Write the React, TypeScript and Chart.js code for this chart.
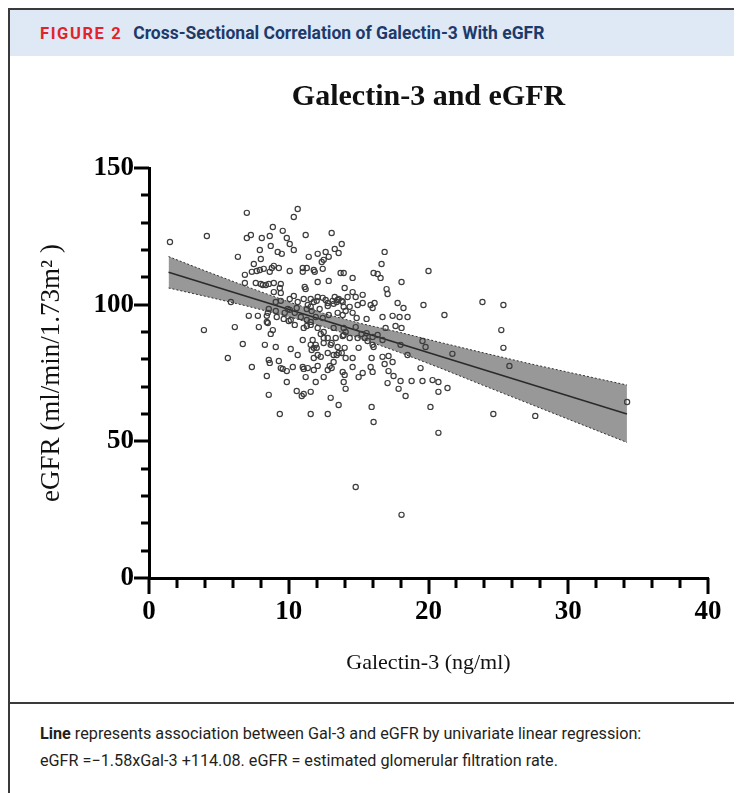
import React, { useEffect, useRef } from "react";
import { Chart, registerables } from "chart.js";

Chart.register(...registerables);

// Galectin-3 (ng/ml) and eGFR (ml/min/1.73m²) for each patient
const galectin = [
  1.5, 4.14, 3.93, 5.64, 6.14, 5.86, 6.36, 6.71, 6.86, 6.86, 7.0, 7.0, 7.29, 7.14, 7.36, 7.36, 7.5, 7.64, 7.71, 7.79,
  7.86, 7.93, 7.93, 8.0, 8.0, 8.07, 8.14, 8.21, 8.29, 8.36, 8.43, 8.43, 8.43, 8.5, 8.5, 8.57, 8.57, 8.57, 8.57, 8.64,
  8.64, 8.64, 8.71, 8.71, 8.79, 8.86, 8.86, 8.93, 8.93, 8.93, 9.07, 9.07, 9.07, 9.14, 9.21, 9.29, 9.29, 9.36, 9.36, 9.43,
  9.43, 9.43, 9.43, 9.5, 9.57, 9.57, 9.64, 9.71, 9.86, 9.86, 9.86, 9.93, 10.0, 10.07, 10.07, 10.07, 10.07, 10.14, 10.14, 10.29,
  10.36, 10.36, 10.36, 10.43, 10.43, 10.57, 10.57, 10.64, 10.64, 10.64, 10.86, 10.93, 11.0, 11.0, 11.0, 11.0, 11.07, 11.07, 11.07, 11.07,
  11.14, 11.21, 11.21, 11.21, 11.29, 11.29, 11.29, 11.29, 11.36, 11.36, 11.43, 11.57, 11.57, 11.57, 11.57, 11.57, 11.57, 11.57, 11.64, 11.64,
  11.71, 11.79, 11.79, 11.79, 11.79, 11.79, 11.86, 11.93, 11.93, 11.93, 12.0, 12.0, 12.07, 12.07, 12.07, 12.07, 12.07, 12.07, 12.21, 12.29,
  12.29, 12.36, 12.43, 12.43, 12.43, 12.5, 12.5, 12.5, 12.5, 12.5, 12.64, 12.64, 12.79, 12.79, 12.79, 12.79, 12.79, 12.79, 12.86, 12.86,
  12.86, 12.93, 13.0, 13.0, 13.07, 13.07, 13.07, 13.14, 13.21, 13.21, 13.21, 13.21, 13.29, 13.29, 13.36, 13.43, 13.43, 13.5, 13.5, 13.5,
  13.57, 13.57, 13.57, 13.57, 13.71, 13.79, 13.79, 13.79, 13.86, 13.86, 13.86, 13.86, 13.93, 13.93, 13.93, 13.93, 13.93, 14.0, 14.0, 14.0,
  14.07, 14.07, 14.07, 14.07, 14.21, 14.36, 14.36, 14.57, 14.57, 14.57, 14.57, 14.57, 14.79, 14.79, 14.79, 14.86, 14.93, 14.93, 15.0, 15.0,
  15.21, 15.29, 15.29, 15.29, 15.43, 15.57, 15.57, 15.64, 15.86, 15.86, 15.93, 15.93, 16.0, 16.0, 16.0, 16.0, 16.07, 16.07, 16.07, 16.14,
  16.36, 16.36, 16.57, 16.64, 16.71, 16.71, 16.71, 16.86, 16.86, 16.93, 17.0, 17.07, 17.07, 17.14, 17.14, 17.43, 17.43, 17.5, 17.64, 17.79,
  17.86, 17.93, 18.0, 18.0, 18.07, 18.07, 18.07, 18.21, 18.36, 18.5, 18.5, 18.79, 19.43, 19.57, 19.57, 19.64, 19.79, 20.0, 20.14, 20.29,
  20.71, 20.71, 20.71, 21.14, 21.36, 21.71, 23.86, 24.64, 25.21, 25.36, 25.36, 25.79, 27.64, 34.21,
];
const egfr = [
  122.9, 125.1, 90.7, 80.5, 91.8, 101.0, 117.5, 85.6, 110.9, 107.9, 133.6, 124.4, 125.5, 95.9, 77.2, 112.0, 114.9, 107.9, 112.3, 95.9,
  91.8, 120.0, 112.7, 116.7, 107.6, 124.4, 107.2, 113.1, 85.3, 107.2, 95.9, 93.7, 73.9, 97.0, 93.3, 107.6, 98.4, 79.8, 67.0, 125.1,
  112.0, 78.7, 121.5, 89.3, 113.4, 128.4, 90.7, 114.2, 107.9, 104.6, 97.7, 84.5, 101.0, 95.5, 119.3, 113.4, 79.4, 106.1, 60.0, 107.6,
  104.3, 101.4, 76.8, 118.6, 127.0, 76.5, 94.8, 97.0, 124.4, 75.7, 71.7, 98.4, 94.0, 122.2, 112.3, 102.1, 98.1, 83.8, 94.4, 77.2,
  132.1, 120.0, 103.2, 97.0, 92.6, 98.8, 68.4, 135.0, 101.0, 81.6, 95.5, 66.6, 113.4, 112.0, 87.1, 77.2, 102.1, 91.5, 76.5, 67.3,
  106.5, 125.5, 105.7, 73.5, 113.4, 98.4, 94.4, 92.2, 99.9, 76.8, 117.5, 102.1, 99.2, 93.7, 92.6, 85.3, 68.1, 60.0, 97.7, 83.4,
  87.1, 112.7, 101.0, 84.2, 80.5, 76.1, 112.0, 95.5, 85.3, 71.7, 101.4, 84.2, 118.6, 108.3, 102.8, 91.5, 81.6, 77.6, 98.4, 89.3,
  80.9, 115.6, 113.1, 102.5, 95.1, 116.4, 90.0, 87.8, 86.0, 73.5, 119.3, 101.7, 100.6, 99.5, 87.8, 82.3, 76.1, 60.0, 117.5, 108.7,
  96.2, 77.6, 85.3, 65.9, 126.2, 86.0, 76.8, 101.4, 100.3, 91.5, 81.6, 79.0, 120.4, 102.8, 87.8, 101.0, 81.6, 101.7, 97.0, 84.5,
  118.9, 102.1, 82.3, 63.3, 111.6, 122.2, 101.4, 82.3, 101.0, 96.2, 88.5, 75.4, 111.6, 99.2, 91.5, 88.9, 71.7, 106.1, 84.2, 74.3,
  97.7, 90.0, 80.5, 69.2, 102.8, 99.2, 87.8, 109.8, 104.6, 97.0, 80.5, 77.2, 102.8, 91.8, 33.3, 95.1, 99.9, 87.8, 84.2, 73.5,
  89.3, 103.6, 100.6, 75.0, 87.8, 94.8, 89.6, 86.7, 99.9, 77.2, 80.5, 62.6, 98.8, 88.2, 85.3, 75.4, 111.6, 84.5, 57.1, 100.6,
  111.2, 88.9, 109.8, 114.9, 95.5, 87.1, 80.9, 119.3, 78.3, 91.5, 105.7, 103.9, 71.3, 81.2, 75.7, 95.9, 79.0, 73.9, 92.2, 100.6,
  69.2, 95.5, 85.3, 72.1, 108.3, 91.5, 23.1, 98.8, 66.6, 95.5, 81.6, 72.1, 76.8, 86.7, 72.1, 99.9, 84.5, 112.3, 62.6, 72.4,
  71.7, 68.1, 53.1, 96.2, 69.5, 82.0, 101.0, 60.0, 90.7, 99.9, 84.2, 77.6, 59.3, 64.4,
];

// Regression line end points and 95% confidence band
const fitX = [1.4, 34.2];
const fitY = [111.87, 60.04];
const bandX = [1.4, 4, 7, 10, 12.5, 15, 18, 21, 24, 27, 30, 34.2];
const bandUpper = [117.6, 112.4, 106.6, 101.0, 96.8, 93.3, 89.8, 86.0, 82.3, 78.7, 75.3, 70.6];
const bandLower = [106.1, 103.1, 99.5, 95.6, 91.9, 87.9, 82.4, 76.5, 70.3, 64.2, 58.1, 49.6];

// Axis ticks
const xTickValues = [0, 2, 4, 6, 8, 10, 12, 14, 16, 18, 20, 22, 24, 26, 28, 30, 32, 34, 36, 38, 40];
const xMajorTicks = [0, 10, 20, 30, 40];
const yTickValues = [0, 10, 20, 30, 40, 50, 60, 70, 80, 90, 100, 110, 120, 130, 140, 150];
const yMajorTicks = [0, 50, 100, 150];

const SERIF = "'Liberation Serif', 'Times New Roman', serif";

const axisTicksPlugin = {
  id: "axisTicks",
  afterDraw(chart: any) {
    const { ctx, chartArea, scales } = chart;
    const xs = scales.x;
    const ys = scales.y;
    ctx.save();
    ctx.strokeStyle = "#000";
    ctx.lineWidth = 3;
    ctx.lineCap = "butt";
    xTickValues.forEach((v) => {
      const px = Math.round(xs.getPixelForValue(v));
      const len = xMajorTicks.includes(v) ? 16 : 10;
      ctx.beginPath();
      ctx.moveTo(px, chartArea.bottom);
      ctx.lineTo(px, chartArea.bottom + len);
      ctx.stroke();
    });
    yTickValues.forEach((v) => {
      const py = Math.round(ys.getPixelForValue(v));
      const len = yMajorTicks.includes(v) ? 15 : 8;
      ctx.beginPath();
      ctx.moveTo(chartArea.left, py);
      ctx.lineTo(chartArea.left - len, py);
      ctx.stroke();
    });
    ctx.restore();
  },
};

function GalectinChart() {
  const ref = useRef<HTMLCanvasElement | null>(null);
  useEffect(() => {
    if (!ref.current) return;
    const points = galectin.map((g, i) => ({ x: g, y: egfr[i] }));
    const fit = fitX.map((x, i) => ({ x, y: fitY[i] }));
    const upper = bandX.map((x, i) => ({ x, y: bandUpper[i] }));
    const lower = bandX.map((x, i) => ({ x, y: bandLower[i] }));
    const chart = new Chart(ref.current, {
      type: "scatter",
      data: {
        datasets: [
          {
            label: "Patients",
            data: points,
            pointRadius: 2.6,
            pointBorderWidth: 1.2,
            borderColor: "#3c3c3c",
            backgroundColor: "rgba(0,0,0,0)",
            pointBackgroundColor: "rgba(0,0,0,0)",
            pointBorderColor: "#3c3c3c",
            showLine: false,
            order: 0,
          } as any,
          {
            type: "line",
            label: "Regression",
            data: fit,
            borderColor: "#2a2a2a",
            borderWidth: 1.6,
            pointRadius: 0,
            showLine: true,
            fill: false,
            order: 1,
          } as any,
          {
            type: "line",
            label: "Upper 95% CI",
            data: upper,
            borderColor: "#333",
            borderWidth: 1,
            borderDash: [2, 2],
            pointRadius: 0,
            showLine: true,
            fill: "+1",
            backgroundColor: "rgb(152,152,152)",
            order: 3,
          } as any,
          {
            type: "line",
            label: "Lower 95% CI",
            data: lower,
            borderColor: "#333",
            borderWidth: 1,
            borderDash: [2, 2],
            pointRadius: 0,
            showLine: true,
            fill: false,
            order: 2,
          } as any,
        ],
      },
      options: {
        animation: false,
        responsive: false,
        devicePixelRatio: 1,
        layout: { padding: { left: 0, right: 34, top: 0, bottom: 0 } },
        plugins: {
          legend: { display: false },
          tooltip: { enabled: false },
          title: {
            display: true,
            text: "Galectin-3 and eGFR",
            color: "#111",
            fullSize: false,
            font: { family: SERIF, size: 30, weight: "bold" },
            padding: { top: 23, bottom: 53 },
          },
        },
        scales: {
          x: {
            type: "linear",
            position: "bottom",
            min: 0,
            max: 40,
            afterFit(s: any) {
              s.height = 124;
            },
            grid: { display: false, drawTicks: true, tickLength: 16 },
            border: { display: true, width: 3, color: "#000" },
            ticks: {
              stepSize: 10,
              color: "#000",
              padding: 2,
              maxRotation: 0,
              font: { family: SERIF, size: 27, weight: "bold" },
            },
            title: {
              display: true,
              text: "Galectin-3 (ng/ml)",
              color: "#111",
              font: { family: SERIF, size: 22 },
              padding: { top: 0, bottom: 26 },
            },
          },
          y: {
            type: "linear",
            min: 0,
            max: 150,
            afterFit(s: any) {
              s.width = 139;
            },
            grid: { display: false, drawTicks: true, tickLength: 15 },
            border: { display: true, width: 3, color: "#000" },
            ticks: {
              stepSize: 50,
              color: "#000",
              padding: 0,
              font: { family: SERIF, size: 27, weight: "bold" },
            },
            title: {
              display: true,
              text: "eGFR (ml/min/1.73m² )",
              color: "#111",
              align: "center",
              font: { family: SERIF, size: 27 },
              padding: { top: 26, bottom: 0 },
            },
          },
        },
      } as any,
      plugins: [axisTicksPlugin],
    });
    return () => chart.destroy();
  }, []);
  return <canvas ref={ref} width={732} height={646} style={{ display: "block", width: 732, height: 646 }} />;
}

export default function App() {
  useEffect(() => {
    document.documentElement.style.overflow = "hidden";
    document.body.style.overflow = "hidden";
  }, []);
  const sans = "Roboto, 'Liberation Sans', sans-serif";
  return (
    <div
      style={{
        width: 734,
        boxSizing: "border-box",
        borderTop: "2px solid #3a3a3a",
        borderLeft: "2px solid #3a3a3a",
        background: "#fff",
      }}
    >
      <div
        style={{
          height: 46,
          background: "#dfe9f5",
          display: "flex",
          alignItems: "center",
          paddingLeft: 30,
          fontFamily: sans,
          whiteSpace: "nowrap",
        }}
      >
        <span style={{ color: "#e3232c", fontWeight: 700, fontSize: 16.5, letterSpacing: "1.6px" }}>FIGURE 2</span>
        <span style={{ color: "#1c3a6b", fontWeight: 700, fontSize: 17.5, marginLeft: 11 }}>
          Cross-Sectional Correlation of Galectin-3 With eGFR
        </span>
      </div>
      <GalectinChart />
      <div
        style={{
          borderTop: "2px solid #3a3a3a",
          padding: "16px 20px 20px 30px",
          fontFamily: sans,
          fontSize: 16.2,
          lineHeight: "27px",
          color: "#231f20",
        }}
      >
        <b>Line</b> represents association between Gal-3 and eGFR by univariate linear regression:
        <br />
        eGFR =−1.58xGal-3 +114.08. eGFR = estimated glomerular filtration rate.
      </div>
    </div>
  );
}
